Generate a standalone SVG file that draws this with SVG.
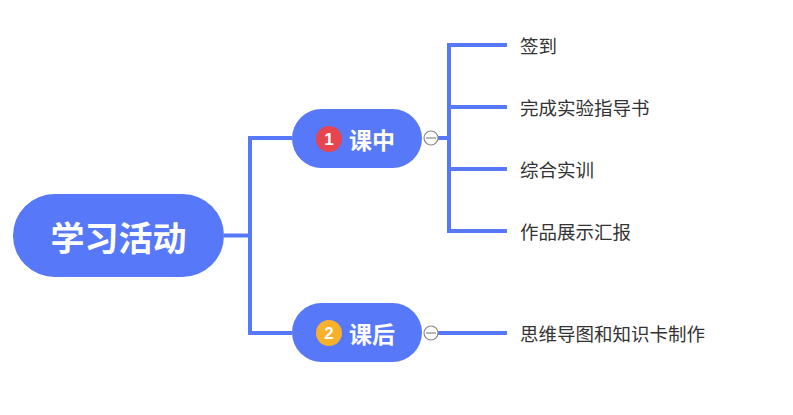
<svg xmlns="http://www.w3.org/2000/svg" width="793" height="415" viewBox="0 0 793 415">
<style>
.ln{fill:none;stroke:#5778F8;stroke-width:4;stroke-linecap:butt}
.pill{fill:#5778F8}
.big{font-family:"Noto Sans CJK SC","Noto Sans",sans-serif;font-weight:bold;fill:#fff}
.leaf{font-family:"Noto Sans CJK SC","Noto Sans",sans-serif;font-size:18.5px;fill:#333;dominant-baseline:central}
.badge{font-family:"Liberation Sans",sans-serif;font-weight:bold;font-size:17px;fill:#fff;text-anchor:middle;dominant-baseline:central}
.tog{fill:#fff;stroke:#888;stroke-width:1.2}
</style>
<rect width="793" height="415" fill="#fff"/>
<g id="connectors">
<path class="ln" d="M224 235.5H250M250 138V333M248 138H292M248 333H292"/>
<path class="ln" d="M438 138H449M449 45V231M447 45H507M447 107H507M447 169H507M447 231H507"/>
<path class="ln" d="M438 333H507"/>
</g>
<g id="root">
<rect class="pill" x="13" y="194" width="211" height="83" rx="41.5"/>
<text class="big" x="118.5" y="236" font-size="34" text-anchor="middle" dominant-baseline="central">学习活动</text>
</g>
<g id="n1">
<rect class="pill" x="292" y="109" width="130" height="59" rx="29.5"/>
<circle cx="329" cy="139" r="13" fill="#E6444F"/>
<text class="badge" x="329" y="139">1</text>
<text class="big" x="349" y="139" font-size="23" dominant-baseline="central">课中</text>
<circle class="tog" cx="431" cy="138" r="7"/>
<path d="M426 138H436" stroke="#888" stroke-width="1.2"/>
</g>
<g id="n2">
<rect class="pill" x="292" y="303" width="130" height="59" rx="29.5"/>
<circle cx="329" cy="333" r="13" fill="#F8B12A"/>
<text class="badge" x="329" y="333">2</text>
<text class="big" x="349" y="333" font-size="23" dominant-baseline="central">课后</text>
<circle class="tog" cx="431" cy="333" r="7"/>
<path d="M426 333H436" stroke="#888" stroke-width="1.2"/>
</g>
<g id="l1"><text class="leaf" x="520" y="45">签到</text></g>
<g id="l2"><text class="leaf" x="520" y="107">完成实验指导书</text></g>
<g id="l3"><text class="leaf" x="520" y="169">综合实训</text></g>
<g id="l4"><text class="leaf" x="520" y="231">作品展示汇报</text></g>
<g id="l5"><text class="leaf" x="520" y="333">思维导图和知识卡制作</text></g>
</svg>
